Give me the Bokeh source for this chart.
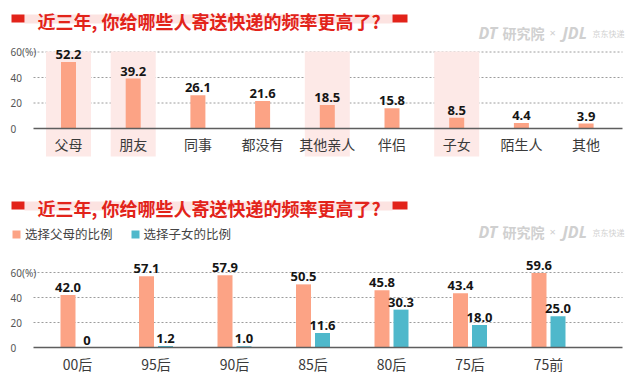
import numpy as np
from bokeh.plotting import figure
from bokeh.models import Range1d, Legend, LegendItem
from bokeh.layouts import column
from bokeh.embed import file_html
from bokeh.resources import INLINE
from bokeh.core.properties import value

# ---------------- data ----------------
TITLE = "近三年, 你给哪些人寄送快递的频率更高了?"
top_cats = ["父母", "朋友", "同事", "都没有", "其他亲人", "伴侣", "子女", "陌生人", "其他"]
top_vals = [52.2, 39.2, 26.1, 21.6, 18.5, 15.8, 8.5, 4.4, 3.9]
top_highlight = ["父母", "朋友", "其他亲人", "子女"]

y_ticks = [0, 20, 40, 60]
y_tick_labels = ["0", "20", "40", "60(%)"]

gen_cats = ["00后", "95后", "90后", "85后", "80后", "75后", "75前"]
parents_vals = [42.0, 57.1, 57.9, 50.5, 45.8, 43.4, 59.6]
children_vals = [0, 1.2, 1.0, 11.6, 30.3, 18.0, 25.0]
series_names = ["选择父母的比例", "选择子女的比例"]

# ---------------- style ----------------
RED = "#E2231A"
SALMON = "#FCA385"
TEAL = "#4FB8CB"
BAND = "#FDE9E7"
TITLE_BAND = "#FCE3E1"
WM = "#D0D0D0"
CJK = "Noto Sans CJK SC"
NUM = "Noto Sans"
W = 628


def make_fig(h, x0px, xunit, y0px, yunit):
    xr = Range1d(-x0px / xunit, (W - x0px) / xunit)
    yr = Range1d((y0px - h) / yunit, y0px / yunit)
    p = figure(width=W, height=h, x_range=xr, y_range=yr,
               output_backend="svg", toolbar_location=None,
               min_border=0, outline_line_color=None)
    p.title.visible = False
    p.xaxis.visible = False
    p.yaxis.visible = False
    p.grid.visible = False
    X = lambda px: (px - x0px) / xunit
    Y = lambda py: (y0px - py) / yunit
    # dotted horizontal gridlines at the y ticks
    gt = [t for t in y_ticks if t > 0]
    p.segment(x0=[X(33)] * len(gt), x1=[X(622)] * len(gt), y0=gt, y1=gt,
              line_color="#9c9c9c", line_dash="2 2", line_width=1)
    return p, X, Y


def decorate(p, X, Y, title_y, wm_y):
    # title
    p.quad(left=[X(24)], right=[X(392)], top=[Y(title_y - 5)], bottom=[Y(title_y + 4)],
           fill_color=TITLE_BAND, line_color=None)
    p.quad(left=[X(11), X(392)], right=[X(24), X(407)],
           top=[Y(title_y - 5)] * 2, bottom=[Y(title_y + 3)] * 2,
           fill_color=RED, line_color=None)
    p.text(x=[X(37)], y=[Y(title_y + 1)], text=[TITLE], text_font=value(CJK),
           text_font_style="bold", text_font_size="18px", text_color=RED,
           text_align="left", text_baseline="middle")
    # watermark
    p.text(x=[X(478)], y=[Y(wm_y)], text=["DT"], text_font=value(NUM),
           text_font_style="bold italic", text_font_size="16px", text_color=WM,
           text_baseline="middle")
    p.text(x=[X(502)], y=[Y(wm_y)], text=["研究院"], text_font=value(CJK),
           text_font_style="bold", text_font_size="14px", text_color=WM,
           text_baseline="middle")
    p.text(x=[X(549)], y=[Y(wm_y)], text=["×"], text_font=value(NUM),
           text_font_size="11px", text_color=WM, text_baseline="middle")
    p.text(x=[X(562)], y=[Y(wm_y)], text=["JDL"], text_font=value(NUM),
           text_font_style="bold italic", text_font_size="16px", text_color=WM,
           text_baseline="middle")
    p.text(x=[X(592)], y=[Y(wm_y + 1)], text=["京东快递"], text_font=value(CJK),
           text_font_size="8px", text_color=WM, text_baseline="middle")


def axis_parts(p, X, Y, cats, xs, label_y):
    p.segment(x0=[X(33)], x1=[X(622)], y0=[0], y1=[0], line_color="#5e5e5e", line_width=1.5)
    p.text(x=[X(10)] * len(y_ticks), y=y_ticks, text=y_tick_labels, text_font=value(NUM),
           text_font_size="10px", text_color="#555555", text_align="left",
           text_baseline="middle")
    p.text(x=xs, y=[Y(label_y)] * len(cats), text=cats, text_font=value(CJK),
           text_font_size="14px", text_color="#3a3a3a", text_align="center",
           text_baseline="middle")


def value_labels(p, xs, vals):
    p.text(x=xs, y=vals, text=[("0" if v == 0 else f"{v:.1f}") for v in vals],
           text_font=value(NUM), text_font_style="bold", text_font_size="13px",
           text_color="#151515", text_align="center", text_baseline="bottom", y_offset=-3)


# ---------------- top chart ----------------
XU1 = 64.7
p1, X1, Y1 = make_fig(188, 68, XU1, 128, 1.275)
idx1 = list(range(len(top_cats)))
hx = [top_cats.index(c) for c in top_highlight]
p1.vbar(x=hx, width=45 / XU1, bottom=Y1(156), top=Y1(51), fill_color=BAND, line_color=None)
p1.vbar(x=idx1, width=15 / XU1, bottom=0, top=top_vals, fill_color=SALMON, line_color=None)
value_labels(p1, idx1, top_vals)
axis_parts(p1, X1, Y1, top_cats, idx1, 143)
decorate(p1, X1, Y1, 19, 32)

# ---------------- bottom chart ----------------
XU2 = 78.5
p2, X2, Y2 = make_fig(189, 77, XU2, 347 - 188, 1.25)
idx2 = np.arange(len(gen_cats))
off = 9.5 / XU2
r1 = p2.vbar(x=idx2 - off, width=15 / XU2, bottom=0, top=parents_vals,
             fill_color=SALMON, line_color=None)
r2 = p2.vbar(x=idx2 + off, width=15 / XU2, bottom=0, top=children_vals,
             fill_color=TEAL, line_color=None)
value_labels(p2, list(idx2 - off), parents_vals)
value_labels(p2, list(idx2 + off), children_vals)
axis_parts(p2, X2, Y2, gen_cats, list(idx2), 363 - 188)
decorate(p2, X2, Y2, 206 - 188, 231 - 188)

legend = Legend(items=[LegendItem(label=series_names[0], renderers=[r1]),
                       LegendItem(label=series_names[1], renderers=[r2])],
                location=(11, 134), orientation="horizontal",
                border_line_color=None, background_fill_alpha=0,
                padding=0, margin=0, spacing=17, glyph_width=10, glyph_height=10,
                label_standoff=4, label_height=12, label_text_font=CJK,
                label_text_font_size="12.5px", label_text_color="#444444")
p2.add_layout(legend)

layout = column(p1, p2, spacing=0)
open("out.html", "w").write(file_html(layout, INLINE))
